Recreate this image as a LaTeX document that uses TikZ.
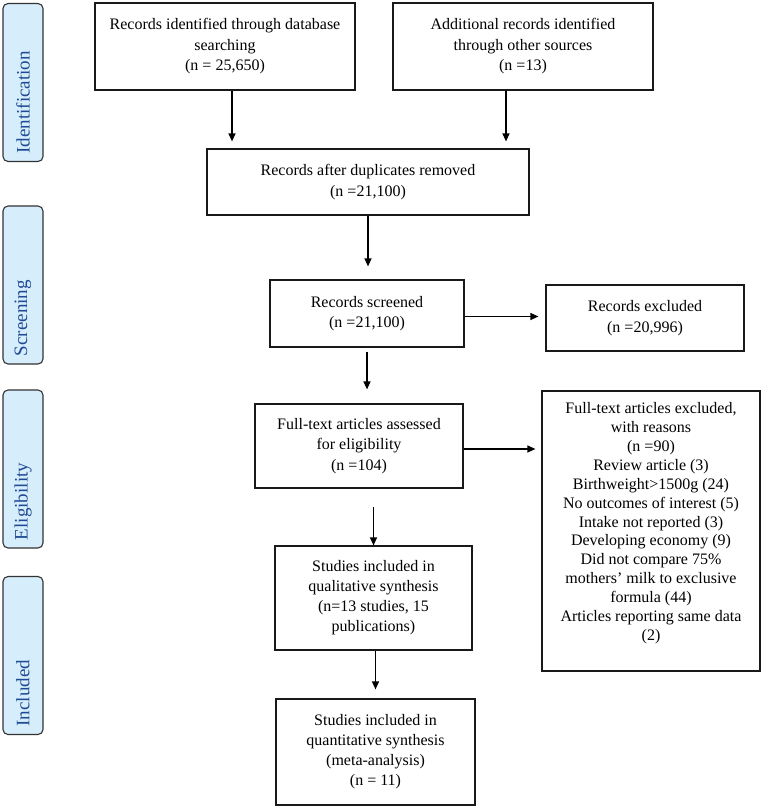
\documentclass[tikz,border=0pt]{standalone}
\usepackage{fontspec}
\setmainfont{Liberation Serif}
\usetikzlibrary{arrows.meta}
\definecolor{phasefill}{HTML}{D6EDFC}
\definecolor{phasetext}{HTML}{1F4A94}
\begin{document}
\begin{tikzpicture}[x=1pt,y=-1pt,
 box/.style={draw=black!90, line width=1.2pt, rectangle, align=center, font=\fontsize{16}{20.5}\selectfont, inner sep=0pt},
 phase/.style={draw=black!80, line width=1.1pt, fill=phasefill, rounded corners=5pt, rotate=90, minimum height=40pt, text width=142pt, align=flush left, inner xsep=8pt, inner ysep=0pt, font=\fontsize{19}{19}\selectfont, text=phasetext},
 arr/.style={-{Triangle[length=8pt,width=7pt]}, line width=1.2pt}]
\useasboundingbox (0,0) rectangle (765,808);
\fill[white] (0,0) rectangle (765,808);
% phase labels
\node[phase] (ph1) at (23,82.5) {Identification};
\node[phase] (ph2) at (23,285) {Screening};
\node[phase] (ph3) at (23,469) {Eligibility};
\node[phase] (ph4) at (23,655.5) {Included};
% boxes
\node[box, minimum width=260pt, minimum height=87pt] (b1) at (225,46.5) {Records identified through database\\searching\\(n = 25,650)};
\node[box, minimum width=260pt, minimum height=87pt] (b2) at (523,46.5) {Additional records identified\\through other sources\\(n =13)};
\node[box, minimum width=322pt, minimum height=66pt] (b3) at (368,182) {Records after duplicates removed\\(n =21,100)};
\node[box, minimum width=194pt, minimum height=67pt] (b4) at (367,313.5) {Records screened\\(n =21,100)};
\node[box, minimum width=198pt, minimum height=66pt] (ex1) at (645,318) {Records excluded\\(n =20,996)};
\node[box, minimum width=208pt, minimum height=84pt] (b5) at (359,446) {Full-text articles assessed\\for eligibility\\(n =104)};
\node[box, minimum width=218pt, minimum height=280pt, font=\fontsize{16}{18.9}\selectfont] (ex2) at (651,531) {Full-text articles excluded,\\with reasons\\(n =90)\\Review article (3)\\Birthweight>1500g (24)\\No outcomes of interest (5)\\Intake not reported (3)\\Developing economy (9)\\Did not compare 75\%\\mothers’ milk to exclusive\\formula (44)\\Articles reporting same data\\(2)\rule[-19pt]{0pt}{19pt}};
\node[box, minimum width=197pt, minimum height=104pt, font=\fontsize{16}{20}\selectfont] (b6) at (373.5,598) {Studies included in\\qualitative synthesis\\(n=13 studies, 15\\publications)};
\node[box, minimum width=199pt, minimum height=106pt, font=\fontsize{16}{20}\selectfont] (b7) at (375.5,752) {Studies included in\\quantitative synthesis\\(meta-analysis)\\(n = 11)};
% arrows
\draw[arr, shorten >=7pt] ([xshift=7pt]b1.south) -- ([xshift=7pt]b1.south |- b3.north);
\draw[arr, shorten >=7pt] ([xshift=-17pt]b2.south) -- ([xshift=-17pt]b2.south |- b3.north);
\draw[arr, shorten >=13pt] (b3.south) -- (b3.south |- b4.north);
\draw[arr, shorten >=7pt] ([yshift=-3pt]b4.east) -- ([yshift=-3pt]b4.east -| ex1.west);
\draw[arr, shorten <=4pt, shorten >=14pt] (b4.south) -- (b4.south |- b5.north);
\draw[arr, shorten >=6pt] ([yshift=-3pt]b5.east) -- ([yshift=-3pt]b5.east -| ex2.west);
\draw[arr, shorten <=18pt] (b6.north |- b5.south) -- (b6.north);
\draw[arr, shorten >=9pt] (b7.north |- b6.south) -- (b7.north);
\end{tikzpicture}
\end{document}
